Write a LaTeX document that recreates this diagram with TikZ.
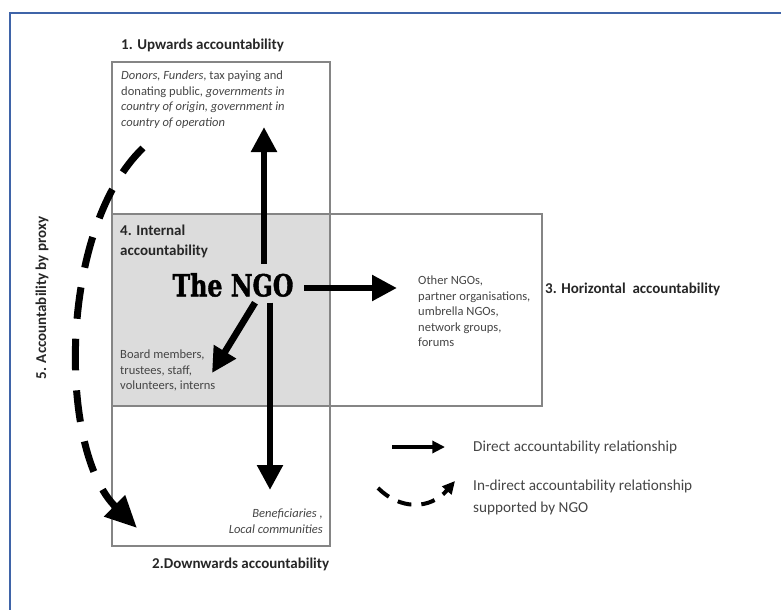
\documentclass[tikz,border=0pt]{standalone}
\usepackage{graphicx}
\usepackage{fontspec}
\setmainfont{Carlito}
\newfontfamily\ngofont[BoldFeatures={FakeBold=1.6}]{DejaVu Serif}
\usepackage{tikz}
\usetikzlibrary{arrows.meta,positioning,calc}

\definecolor{frameblue}{HTML}{3F64A8}
\definecolor{boxgrey}{HTML}{858585}
\definecolor{fillgrey}{HTML}{DCDCDC}
\definecolor{txtgrey}{HTML}{454545}

\tikzset{
  boxline/.style={draw=boxgrey, line width=0.04cm},
  headtxt/.style={font=\fontsize{12.8}{16.5}\selectfont\bfseries, text=black!85, inner sep=0pt},
  bodytxt/.style={font=\fontsize{10.7}{13.2}\selectfont, text=txtgrey, inner sep=0pt},
  legtxt/.style={font=\fontsize{13}{18.5}\selectfont, text=txtgrey, inner sep=0pt, anchor=west, align=left},
  bigarrow/.style={line width=0.2cm, -{Triangle[length=0.75cm,width=0.74cm]}},
  smallarrow/.style={line width=0.12cm, -{Triangle[length=0.38cm,width=0.36cm]}},
  proxyarrow/.style={line width=0.21cm, dash pattern=on 0.95cm off 0.6cm, -{Triangle[length=0.95cm,width=0.85cm]}},
  legdash/.style={line width=0.12cm, dash pattern=on 0.42cm off 0.3cm, -{Triangle[length=0.38cm,width=0.36cm]}}
}

\begin{document}
\begin{tikzpicture}[x=0.03cm, y=-0.03cm]
\useasboundingbox (0,0) rectangle (781,610);
\draw[frameblue, line width=0.06cm] (781,13) -| (10,610);

% boxes
\fill[fillgrey] (112,214) rectangle (330,406);
\draw[boxline] (112,62) rectangle (330,546);
\draw[boxline] (112,214) rectangle (542,406);

% headings
\node[headtxt, anchor=west] (upl) at (121,45) {1. Upwards accountability};
\node[headtxt, anchor=north west, align=left] (internal) at (120,225) {4. Internal\\accountability};
\node[headtxt, anchor=west] (horiz) at (545,289) {3. Horizontal\ \ accountability};
\node[headtxt, anchor=west] (downl) at (152,564) {2.Downwards accountability};
\node[headtxt, rotate=90] (proxy) at (42,298) {5. Accountability by proxy};

% groups
\node[bodytxt, anchor=north west, align=left] (donors) at (121,71)
  {\textit{Donors, Funders}, tax paying and\\donating public, \textit{governments in}\\\textit{country of origin, government in}\\\textit{country of operation}};
\node[bodytxt, anchor=north west, align=left] (board) at (120,350)
  {Board members,\\trustees, staff,\\volunteers, interns};
\node[bodytxt, anchor=north west, align=left] (others) at (418,276)
  {Other NGOs,\\partner organisations,\\umbrella NGOs,\\network groups,\\forums};
\node[bodytxt, anchor=north east, align=right] (benef) at (323,509)
  {\textit{Beneficiaries ,}\\\textit{Local communities}};

% the NGO
\node[font=\ngofont\fontsize{26}{26}\selectfont\bfseries, inner sep=2pt] (ngo) at (233,285)
  {\scalebox{0.78}[1]{The NGO}};

% direct relationships
\coordinate (uptip) at (264,127);
\coordinate (downtip) at (270,490);
\coordinate (righttip) at (397,288);
\coordinate (boardtip) at (212,373);
\draw[bigarrow] ([yshift=0.2cm]ngo.north -| uptip) -- (uptip);
\draw[bigarrow] ([yshift=-0.1cm]ngo.south -| downtip) -- (downtip);
\draw[bigarrow] ([xshift=0.25cm]ngo.east |- righttip) -- (righttip);
\draw[bigarrow] ([xshift=0.66cm,yshift=-0.1cm]ngo.south) -- (boardtip);

% by proxy
\coordinate (proxystart) at (143,148);
\coordinate (proxytip) at (137,528);
\draw[proxyarrow] (proxystart) .. controls (58,230) and (58,450) .. (proxytip);

% legend
\node[legtxt] (direct) at (473,447) {Direct accountability relationship};
\node[legtxt, anchor=north west] (indirect) at (473,480) {In-direct\ accountability relationship\\supported\ by NGO};
\coordinate (directfrom) at (392,447);
\draw[smallarrow] (directfrom) -- ([xshift=-0.84cm]direct.west);
\coordinate (indirectfrom) at (378,488);
\coordinate (indirecttip) at (455,481);
\draw[legdash] (indirectfrom) .. controls (400,510) and (430,510) .. (indirecttip);
\end{tikzpicture}
\end{document}
